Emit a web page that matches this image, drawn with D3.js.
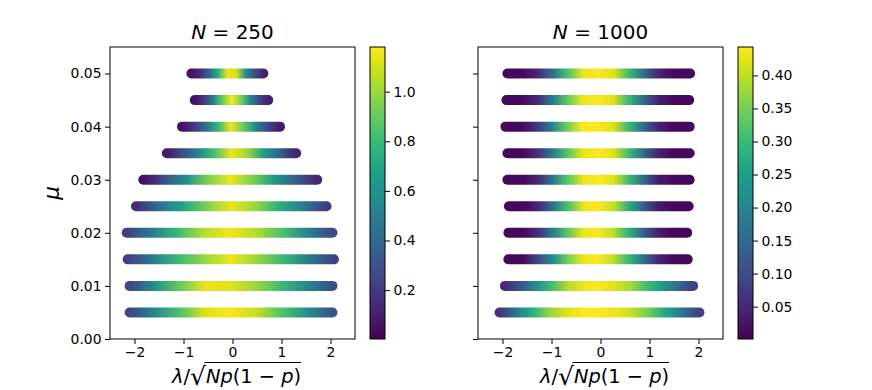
<!DOCTYPE html>
<html>
<head>
<meta charset="utf-8">
<script src="https://cdn.jsdelivr.net/npm/d3@7"></script>
<style>
  body { margin: 0; background: #fff; }
  svg { display: block; font-family: "DejaVu Sans", sans-serif; }
</style>
</head>
<body>
<svg id="chart" width="872" height="390"></svg>
<script>
// μ of each row (both panels share them)
const muRows = [0.005, 0.01, 0.015, 0.02, 0.025, 0.03, 0.035, 0.04, 0.045, 0.05];

// N = 250 : ends of every row and colour values read along it (left -> right)
const lo250 = [-2.10, -2.10, -2.14, -2.16, -1.97, -1.82, -1.34, -1.03, -0.77, -0.84];
const hi250 = [2.04, 2.04, 2.07, 2.04, 1.92, 1.73, 1.30, 0.97, 0.73, 0.63];
const dens250 = [
  [0.25, 0.55, 0.85, 1.12, 1.17, 1.08, 0.85, 0.6, 0.3],
  [0.25, 0.6, 0.9, 1.15, 1.12, 1.0, 0.8, 0.55, 0.28],
  [0.22, 0.5, 0.8, 1.0, 1.15, 1.0, 0.8, 0.5, 0.22],
  [0.22, 0.5, 0.8, 1.05, 1.15, 1.05, 0.85, 0.55, 0.25],
  [0.15, 0.45, 0.7, 0.95, 1.15, 1.0, 0.75, 0.5, 0.2],
  [0.05, 0.3, 0.6, 0.95, 1.15, 0.95, 0.65, 0.35, 0.12],
  [0.08, 0.3, 0.55, 0.85, 1.15, 1.0, 0.65, 0.35, 0.1],
  [0.05, 0.2, 0.45, 0.8, 1.15, 0.9, 0.55, 0.25, 0.08],
  [0.05, 0.2, 0.5, 0.9, 1.17, 0.95, 0.55, 0.25, 0.1],
  [0.05, 0.15, 0.4, 0.75, 1.15, 1.1, 0.6, 0.3, 0.1]
];
const cbarRange250 = [0.003, 1.18];
const cbarTicks250 = [0.2, 0.4, 0.6, 0.8, 1.0];

// N = 1000
const lo1000 = [-2.06, -1.95, -1.88, -1.88, -1.87, -1.90, -1.90, -1.94, -1.92, -1.90];
const hi1000 = [2.02, 1.89, 1.78, 1.77, 1.80, 1.82, 1.82, 1.82, 1.81, 1.83];
const dens1000 = [
  [0.06, 0.18, 0.28, 0.37, 0.42, 0.44, 0.44, 0.43, 0.40, 0.34, 0.26, 0.17, 0.08],
  [0.05, 0.12, 0.22, 0.31, 0.39, 0.43, 0.44, 0.42, 0.38, 0.31, 0.24, 0.16, 0.08],
  [0.01, 0.01, 0.10, 0.22, 0.35, 0.43, 0.44, 0.40, 0.30, 0.17, 0.05, 0.01, 0.01],
  [0.01, 0.01, 0.06, 0.19, 0.33, 0.43, 0.44, 0.40, 0.29, 0.15, 0.04, 0.01, 0.01],
  [0.01, 0.01, 0.05, 0.18, 0.32, 0.43, 0.44, 0.40, 0.28, 0.13, 0.03, 0.01, 0.01],
  [0.01, 0.01, 0.05, 0.18, 0.33, 0.43, 0.44, 0.42, 0.30, 0.14, 0.03, 0.01, 0.01],
  [0.01, 0.01, 0.06, 0.19, 0.33, 0.43, 0.44, 0.42, 0.30, 0.15, 0.04, 0.01, 0.01],
  [0.01, 0.01, 0.06, 0.19, 0.34, 0.44, 0.44, 0.42, 0.30, 0.15, 0.04, 0.01, 0.01],
  [0.01, 0.01, 0.05, 0.18, 0.33, 0.43, 0.44, 0.42, 0.30, 0.15, 0.04, 0.01, 0.01],
  [0.01, 0.01, 0.05, 0.17, 0.32, 0.43, 0.44, 0.42, 0.30, 0.15, 0.04, 0.01, 0.01]
];
const cbarRange1000 = [0.001, 0.443];
const cbarTicks1000 = [0.05, 0.10, 0.15, 0.20, 0.25, 0.30, 0.35, 0.40];

const xTicks = [-2, -1, 0, 1, 2];
const yTicks = [0, 0.01, 0.02, 0.03, 0.04, 0.05];
const xDomain = [-2.5, 2.5];
const yDomain = [0, 0.055];

// 版面
const svg = d3.select("#chart");
const defs = svg.append("defs");
const axTop = 47, axBottom = 339, axW = 245;
const tickFont = 13.9, labelFont = 19.4;

function styleAxis(g) {
  g.select(".domain").remove();
  g.attr("font-size", tickFont).attr("font-family", "DejaVu Sans").attr("color", "#000");
  g.selectAll(".tick line").attr("stroke-width", 1);
}

// x 軸標籤 λ/√Np(1−p)
function xLabel(cx, baseline) {
  const t = svg.append("text")
    .attr("x", cx)
    .attr("y", baseline)
    .attr("text-anchor", "middle")
    .attr("font-size", labelFont);
  t.append("tspan").attr("font-style", "italic").text("λ");
  t.append("tspan").text("/");
  t.append("tspan").attr("font-size", 25).attr("dy", 2).text("√");
  t.append("tspan").attr("font-style", "italic").attr("dy", -2).text("N");
  t.append("tspan").attr("font-style", "italic").text("p");
  t.append("tspan").text("(1 − ");
  t.append("tspan").attr("font-style", "italic").text("p");
  t.append("tspan").text(")");
  const node = t.node();
  const n = node.getNumberOfChars();
  const x0 = node.getEndPositionOfChar(2).x - 1.5;
  const x1 = node.getEndPositionOfChar(n - 1).x;
  svg.append("line")
    .attr("x1", x0).attr("x2", x1)
    .attr("y1", baseline - 20.5).attr("y2", baseline - 20.5)
    .attr("stroke", "#000").attr("stroke-width", 1);
}

function drawPanel(opt) {
  const x = d3.scaleLinear().domain(xDomain).range([opt.left, opt.left + axW]);
  const y = d3.scaleLinear().domain(yDomain).range([axBottom, axTop]);
  const color = d3.scaleSequential(d3.interpolateViridis).domain(opt.range);

  // 每列一條漸層
  muRows.forEach((mu, i) => {
    const vals = opt.dens[i];
    defs.append("linearGradient")
      .attr("id", `row-${opt.tag}-${i}`)
      .attr("gradientUnits", "userSpaceOnUse")
      .attr("x1", x(opt.lo[i])).attr("x2", x(opt.hi[i]))
      .attr("y1", 0).attr("y2", 0)
      .selectAll("stop")
      .data(vals)
      .join("stop")
      .attr("offset", (d, j) => j / (vals.length - 1))
      .attr("stop-color", (d) => color(d));
  });

  svg.append("g")
    .selectAll("line")
    .data(muRows)
    .join("line")
    .attr("x1", (d, i) => x(opt.lo[i]))
    .attr("x2", (d, i) => x(opt.hi[i]))
    .attr("y1", (d) => y(d))
    .attr("y2", (d) => y(d))
    .attr("stroke", (d, i) => `url(#row-${opt.tag}-${i})`)
    .attr("stroke-width", 10)
    .attr("stroke-linecap", "round");

  // 外框
  svg.append("rect")
    .attr("x", opt.left).attr("y", axTop)
    .attr("width", axW).attr("height", axBottom - axTop)
    .attr("fill", "none").attr("stroke", "#000").attr("stroke-width", 1);

  svg.append("g")
    .attr("transform", `translate(0,${axBottom})`)
    .call(d3.axisBottom(x).tickValues(xTicks).tickFormat(d3.format("d")).tickSize(5).tickPadding(3.5))
    .call(styleAxis);

  svg.append("g")
    .attr("transform", `translate(${opt.left},0)`)
    .call(d3.axisLeft(y).tickValues(yTicks)
      .tickFormat(opt.yLabels ? d3.format(".2f") : () => "")
      .tickSize(5).tickPadding(3.5))
    .call(styleAxis);

  // 標題
  const title = svg.append("text")
    .attr("x", opt.left + axW / 2)
    .attr("y", 39)
    .attr("text-anchor", "middle")
    .attr("font-size", labelFont + 0.6);
  title.append("tspan").attr("font-style", "italic").text("N");
  title.append("tspan").text(" = " + opt.n);

  xLabel(opt.left + axW / 2 + 4, 383);

  // 色條
  const cg = defs.append("linearGradient")
    .attr("id", `cbar-${opt.tag}`)
    .attr("x1", 0).attr("x2", 0).attr("y1", 1).attr("y2", 0);
  cg.selectAll("stop")
    .data(d3.range(0, 1.0001, 0.05))
    .join("stop")
    .attr("offset", (d) => d)
    .attr("stop-color", (d) => d3.interpolateViridis(d));

  svg.append("rect")
    .attr("x", opt.cbar).attr("y", axTop)
    .attr("width", 15).attr("height", axBottom - axTop)
    .attr("fill", `url(#cbar-${opt.tag})`)
    .attr("stroke", "#000").attr("stroke-width", 1);

  const cy = d3.scaleLinear().domain(opt.range).range([axBottom, axTop]);
  svg.append("g")
    .attr("transform", `translate(${opt.cbar + 15},0)`)
    .call(d3.axisRight(cy).tickValues(opt.cticks).tickFormat(d3.format(opt.cfmt)).tickSize(5).tickPadding(3.5))
    .call(styleAxis);
}

drawPanel({ tag: "a", n: 250, left: 110, cbar: 370, lo: lo250, hi: hi250, dens: dens250,
  range: cbarRange250, cticks: cbarTicks250, cfmt: ".1f", yLabels: true });
drawPanel({ tag: "b", n: 1000, left: 478, cbar: 738, lo: lo1000, hi: hi1000, dens: dens1000,
  range: cbarRange1000, cticks: cbarTicks1000, cfmt: ".2f", yLabels: false });

// y 軸標籤
svg.append("text")
  .attr("transform", `translate(59,${(axTop + axBottom) / 2}) rotate(-90)`)
  .attr("text-anchor", "middle")
  .attr("font-size", labelFont + 2)
  .attr("font-style", "italic")
  .text("μ");
</script>
</body>
</html>
